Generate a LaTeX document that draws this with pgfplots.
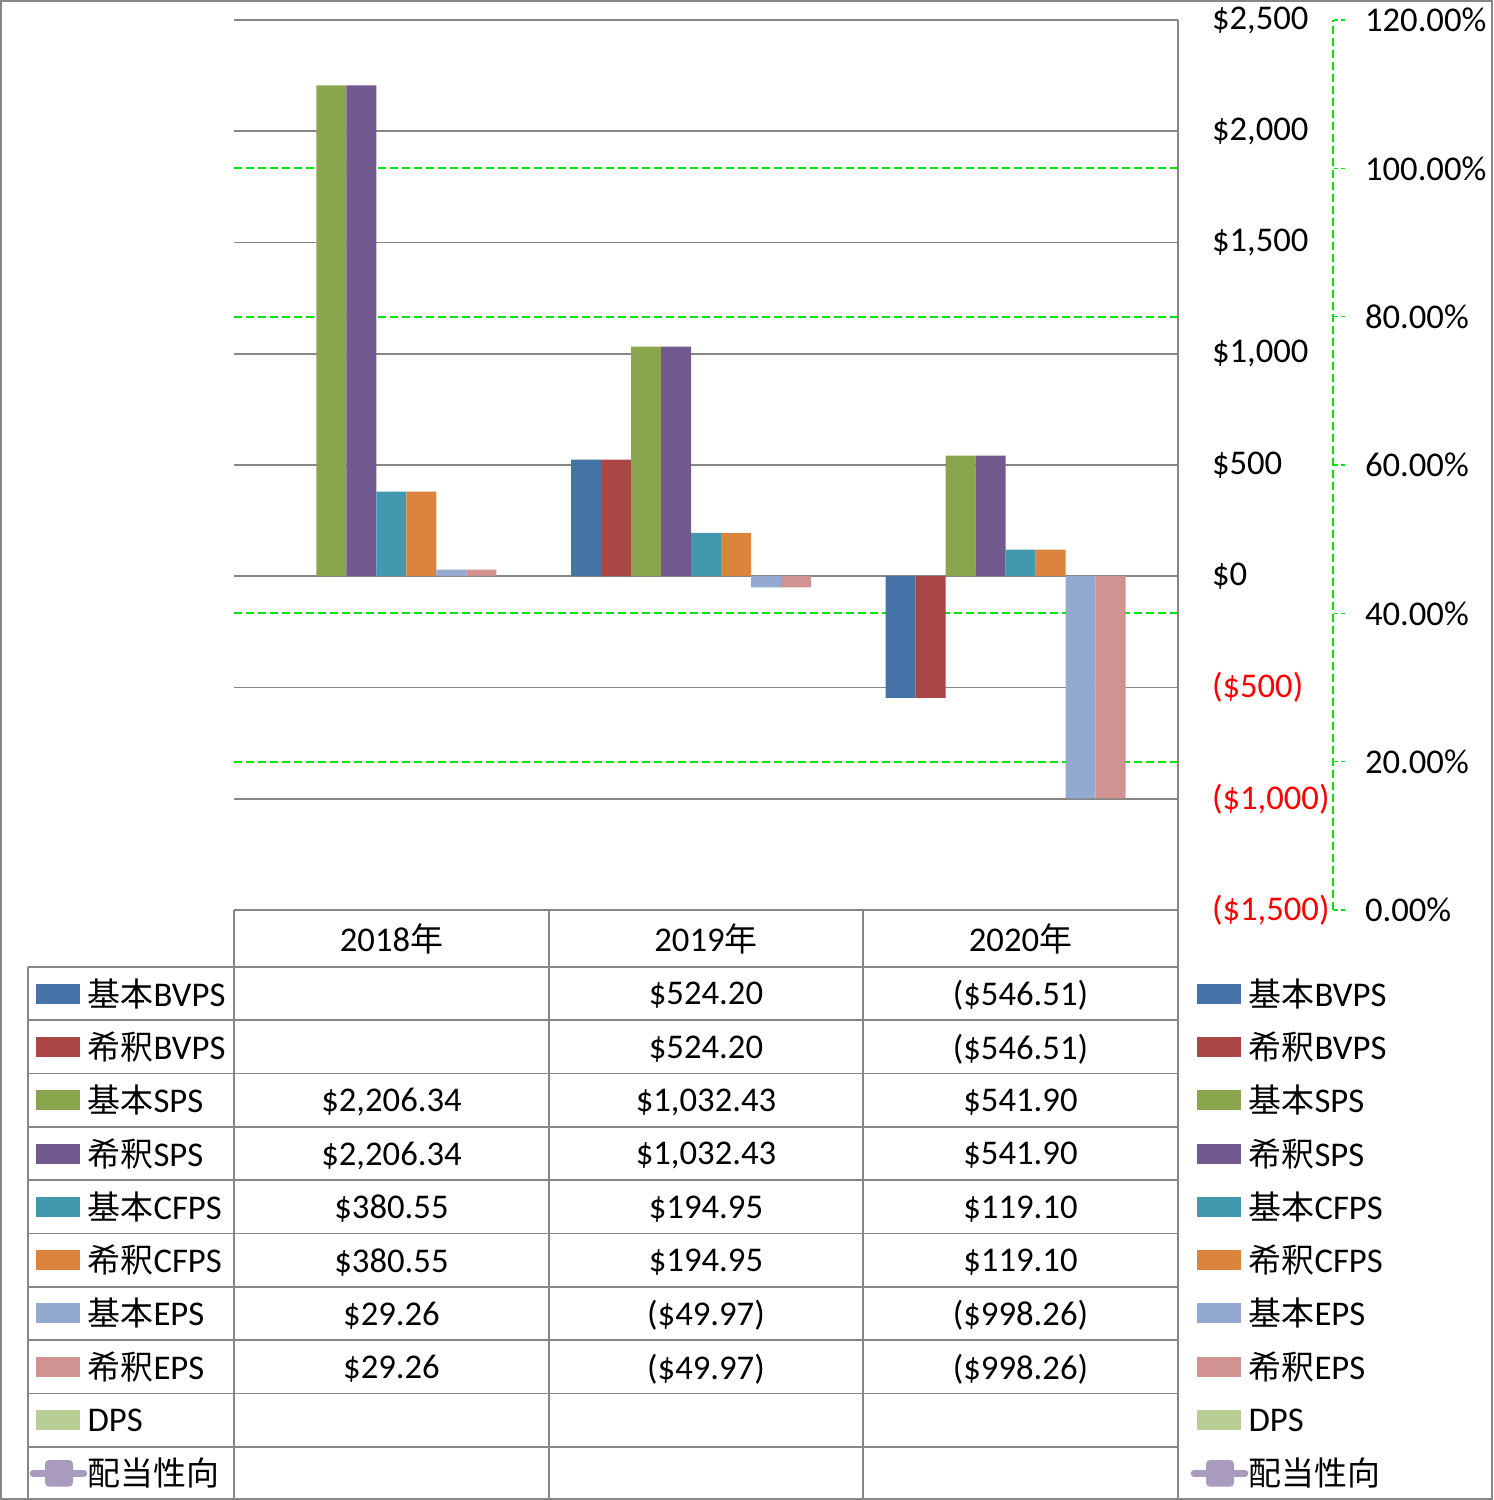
\documentclass[border=0pt]{standalone}
\usepackage{pgfplots}
\pgfplotsset{compat=1.18}
\usepackage{fontspec}
\setmainfont{Carlito}
\newfontfamily\cjk[Scale=0.95]{Noto Sans CJK JP}
\definecolor{cA}{HTML}{4572A7}
\definecolor{cB}{HTML}{AA4643}
\definecolor{cC}{HTML}{89A54E}
\definecolor{cD}{HTML}{71588F}
\definecolor{cE}{HTML}{4198AF}
\definecolor{cF}{HTML}{DB843D}
\definecolor{cG}{HTML}{93A9CF}
\definecolor{cH}{HTML}{D19392}
\definecolor{cI}{HTML}{B9CD96}
\definecolor{cJ}{HTML}{A99BBD}
\definecolor{cGrid}{HTML}{868686}
\definecolor{cLime}{HTML}{00E600}
\newcommand\tf{\fontsize{10.4}{12.5}\selectfont}
\newcommand\trow[6]{%
  \pgfmathsetmacro\yc{159.9-15.99*(#1+0.5)}
  \fill[#6] (10.8pt,\yc pt-3pt) rectangle (24pt,\yc pt+3pt);
  \fill[#6] (359.1pt,\yc pt-3pt) rectangle (372.3pt,\yc pt+3pt);
  \node[anchor=west,inner sep=0pt,font=\tf] at (26.1pt,\yc pt) {#2};
  \node[anchor=west,inner sep=0pt,font=\tf] at (374.4pt,\yc pt) {#2};
  \node[font=\tf] at (117.45pt,\yc pt-0.6pt) {#3};
  \node[font=\tf] at (211.8pt,\yc pt-0.6pt) {#4};
  \node[font=\tf] at (306.15pt,\yc pt-0.6pt) {#5};
}
\begin{document}
\begin{tikzpicture}
\path[use as bounding box] (0pt,0pt) rectangle (447.9pt,450pt);
% secondary grid (behind)
\begin{axis}[
  at={(70.2pt,177pt)}, anchor=south west,
  scale only axis, width=283.2pt, height=267pt,
  xmin=-0.5, xmax=2.5, ymin=0, ymax=1.2,
  hide x axis,
  axis y line*=right,
  y axis line style={draw=none},
  major tick length=0pt,
  ytick={0,0.2,0.4,0.6,0.8,1,1.2},
  yticklabels={{},{},{},{},{},{},{}},
  yticklabel style={text opacity=0},
  ymajorgrids,
  major grid style={draw=cLime, line width=0.55pt, dash pattern=on 2.4pt off 1.2pt},
]
\end{axis}
% secondary axis line, ticks and labels
\begin{axis}[
  at={(70.2pt,177pt)}, anchor=south west,
  scale only axis, width=329.7pt, height=267pt,
  xmin=-0.5, xmax=2.5, ymin=0, ymax=1.2,
  hide x axis,
  axis y line*=right,
  y axis line style={draw=cLime, line width=0.45pt, dash pattern=on 2.4pt off 1.2pt},
  ytick style={draw=cLime, line width=0.45pt, dash pattern=on 1.2pt off 0.9pt},
  tick align=outside, major tick length=3.6pt,
  ytick={0,0.2,0.4,0.6,0.8,1,1.2},
  yticklabels={0.00\%,20.00\%,40.00\%,60.00\%,80.00\%,100.00\%,120.00\%},
  yticklabel style={anchor=west, inner sep=0pt, xshift=5.8pt, font=\tf},
]
\end{axis}
% main axis with bars
\begin{axis}[
  at={(70.2pt,177pt)}, anchor=south west,
  scale only axis, width=283.2pt, height=267pt,
  xmin=-0.5, xmax=2.5, ymin=-1500, ymax=2500,
  hide x axis,
  axis y line*=right,
  y axis line style={draw=cGrid, line width=0.6pt},
  major tick length=0pt,
  ytick={-1500,-1000,-500,0,500,1000,1500,2000,2500},
  yticklabels={{\textcolor{red}{(\$1,500)}},{\textcolor{red}{(\$1,000)}},{\textcolor{red}{(\$500)}},{\$0},{\$500},{\$1,000},{\$1,500},{\$2,000},{\$2,500}},
  yticklabel style={anchor=west, inner sep=0pt, xshift=10pt, font=\tf},
  ymajorgrids,
  major grid style={draw=cGrid, line width=0.5pt},
  ybar, bar width=9pt,
  clip=false,
]
\addplot[fill=cA, draw=none, bar shift=-36pt] coordinates {(1,524.20) (2,-546.51)};
\addplot[fill=cB, draw=none, bar shift=-27pt] coordinates {(1,524.20) (2,-546.51)};
\addplot[fill=cC, draw=none, bar shift=-18pt] coordinates {(0,2206.34) (1,1032.43) (2,541.90)};
\addplot[fill=cD, draw=none, bar shift=-9pt] coordinates {(0,2206.34) (1,1032.43) (2,541.90)};
\addplot[fill=cE, draw=none, bar shift=0pt] coordinates {(0,380.55) (1,194.95) (2,119.10)};
\addplot[fill=cF, draw=none, bar shift=9pt] coordinates {(0,380.55) (1,194.95) (2,119.10)};
\addplot[fill=cG, draw=none, bar shift=18pt] coordinates {(0,29.26) (1,-49.97) (2,-998.26)};
\addplot[fill=cH, draw=none, bar shift=27pt] coordinates {(0,29.26) (1,-49.97) (2,-998.26)};
\end{axis}
% data table
\begin{scope}[draw=cGrid, line width=0.5pt]
\draw (70.2pt,177pt) -- (353.4pt,177pt);
\foreach \k in {0,...,9} {
  \pgfmathsetmacro\yl{159.9-15.99*\k}
  \draw (8.4pt,\yl pt) -- (353.4pt,\yl pt);
}
\draw (8.4pt,159.9pt) -- (8.4pt,0pt);
\draw (70.2pt,177pt) -- (70.2pt,0pt);
\draw (164.7pt,177pt) -- (164.7pt,0pt);
\draw (258.9pt,177pt) -- (258.9pt,0pt);
\draw[line width=0.6pt] (353.4pt,177pt) -- (353.4pt,0pt);
\end{scope}
\node[font=\tf] at (117.45pt,168.45pt) {2018{\cjk 年}};
\node[font=\tf] at (211.8pt,168.45pt) {2019{\cjk 年}};
\node[font=\tf] at (306.15pt,168.45pt) {2020{\cjk 年}};
\trow{0}{{\cjk 基本}BVPS}{}{\$524.20}{(\$546.51)}{cA}
\trow{1}{{\cjk 希釈}BVPS}{}{\$524.20}{(\$546.51)}{cB}
\trow{2}{{\cjk 基本}SPS}{\$2,206.34}{\$1,032.43}{\$541.90}{cC}
\trow{3}{{\cjk 希釈}SPS}{\$2,206.34}{\$1,032.43}{\$541.90}{cD}
\trow{4}{{\cjk 基本}CFPS}{\$380.55}{\$194.95}{\$119.10}{cE}
\trow{5}{{\cjk 希釈}CFPS}{\$380.55}{\$194.95}{\$119.10}{cF}
\trow{6}{{\cjk 基本}EPS}{\$29.26}{(\$49.97)}{(\$998.26)}{cG}
\trow{7}{{\cjk 希釈}EPS}{\$29.26}{(\$49.97)}{(\$998.26)}{cH}
\trow{8}{DPS}{}{}{}{cI}
% line-series legend entries
\pgfmathsetmacro\yc{159.9-15.99*9.5}
\draw[cJ, line width=2pt, line cap=round] (9.9pt,\yc pt) -- (25.2pt,\yc pt);
\fill[cJ, rounded corners=1.2pt] (13.5pt,\yc pt-4pt) rectangle (21.9pt,\yc pt+4pt);
\node[anchor=west,inner sep=0pt,font=\tf] at (26.1pt,\yc pt) {{\cjk 配当性向}};
\draw[cJ, line width=2pt, line cap=round] (358.2pt,\yc pt) -- (373.5pt,\yc pt);
\fill[cJ, rounded corners=1.2pt] (361.8pt,\yc pt-4pt) rectangle (370.2pt,\yc pt+4pt);
\node[anchor=west,inner sep=0pt,font=\tf] at (374.4pt,\yc pt) {{\cjk 配当性向}};
% outer border
\draw[cGrid, line width=0.6pt] (0.3pt,0.3pt) rectangle (447.6pt,449.7pt);
\end{tikzpicture}
\end{document}
